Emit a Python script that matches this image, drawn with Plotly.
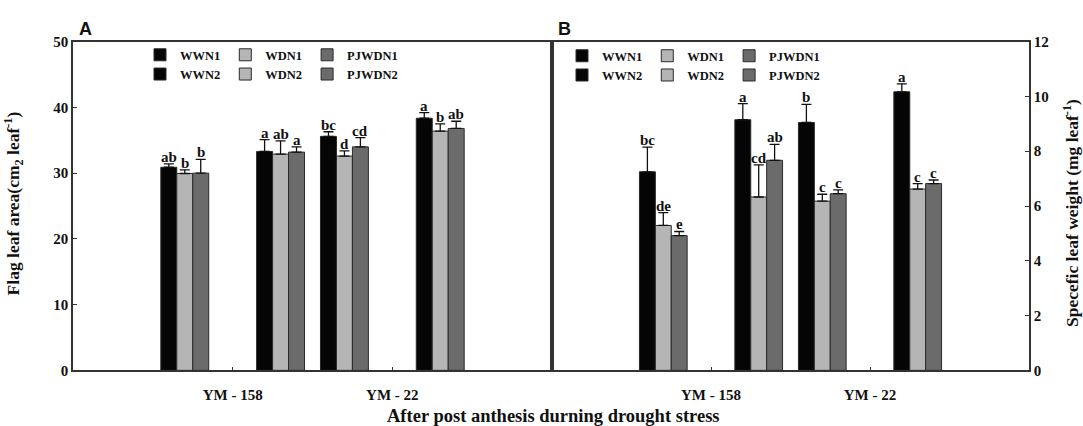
import plotly.graph_objects as go

categories = ["YM - 158", "YM - 22"]
series = ["WWN1", "WDN1", "PJWDN1", "WWN2", "WDN2", "PJWDN2"]

# Panel A: flag leaf area (cm2 leaf-1)
a_wwn1 = [30.9, 35.6]
a_wdn1 = [29.95, 32.6]
a_pjwdn1 = [30.0, 34.0]
a_wwn2 = [33.3, 38.35]
a_wdn2 = [32.9, 36.4]
a_pjwdn2 = [33.2, 36.8]
a_err_wwn1 = [0.5, 0.7]
a_err_wdn1 = [0.55, 0.8]
a_err_pjwdn1 = [2.1, 1.4]
a_err_wwn2 = [1.8, 0.85]
a_err_wdn2 = [2.0, 1.1]
a_err_pjwdn2 = [0.8, 1.1]
a_lab_wwn1 = ["ab", "bc"]
a_lab_wdn1 = ["b", "d"]
a_lab_pjwdn1 = ["b", "cd"]
a_lab_wwn2 = ["a", "a"]
a_lab_wdn2 = ["ab", "b"]
a_lab_pjwdn2 = ["a", "ab"]

# Panel B: specific leaf weight (mg leaf-1)
b_wwn1 = [7.25, 9.05]
b_wdn1 = [5.29, 6.18]
b_pjwdn1 = [4.92, 6.45]
b_wwn2 = [9.15, 10.17]
b_wdn2 = [6.33, 6.62]
b_pjwdn2 = [7.67, 6.82]
b_err_wwn1 = [0.9, 0.66]
b_err_wdn1 = [0.47, 0.25]
b_err_pjwdn1 = [0.15, 0.14]
b_err_wwn2 = [0.59, 0.29]
b_err_wdn2 = [1.17, 0.2]
b_err_pjwdn2 = [0.58, 0.13]
b_lab_wwn1 = ["bc", "b"]
b_lab_wdn1 = ["de", "c"]
b_lab_pjwdn1 = ["e", "c"]
b_lab_wwn2 = ["a", "a"]
b_lab_wdn2 = ["cd", "c"]
b_lab_pjwdn2 = ["ab", "c"]

panel_a = [(a_wwn1, a_err_wwn1, a_lab_wwn1), (a_wdn1, a_err_wdn1, a_lab_wdn1),
           (a_pjwdn1, a_err_pjwdn1, a_lab_pjwdn1), (a_wwn2, a_err_wwn2, a_lab_wwn2),
           (a_wdn2, a_err_wdn2, a_lab_wdn2), (a_pjwdn2, a_err_pjwdn2, a_lab_pjwdn2)]
panel_b = [(b_wwn1, b_err_wwn1, b_lab_wwn1), (b_wdn1, b_err_wdn1, b_lab_wdn1),
           (b_pjwdn1, b_err_pjwdn1, b_lab_pjwdn1), (b_wwn2, b_err_wwn2, b_lab_wwn2),
           (b_wdn2, b_err_wdn2, b_lab_wdn2), (b_pjwdn2, b_err_pjwdn2, b_lab_pjwdn2)]

colors = ["#050505", "#b5b5b5", "#6b6b6b", "#050505", "#b5b5b5", "#6b6b6b"]
offsets = [-0.45, -0.35, -0.25, 0.15, 0.25, 0.35]
bw = 0.1
SERIF = "Liberation Serif"

fig = go.Figure()
annotations = []
panels = [(panel_a, "x", "y", ["legend", "legend2"]), (panel_b, "x2", "y2", ["legend3", "legend4"])]
for data, xa, ya, legs in panels:
    for i, (vals, errs, labs) in enumerate(data):
        fig.add_trace(go.Bar(
            x=categories, y=vals, name=series[i], xaxis=xa, yaxis=ya, legend=legs[i // 3],
            width=bw, offset=offsets[i],
            marker=dict(color=colors[i], line=dict(color="#2a2a2a", width=1)),
            error_y=dict(type="data", array=errs, arrayminus=[0] * len(errs), symmetric=False,
                         color="#111111", thickness=1.3, width=5),
        ))
        for k in range(len(categories)):
            annotations.append(dict(
                x=k + offsets[i] + bw / 2, y=vals[k] + errs[k], xref=xa, yref=ya,
                text="<b>" + labs[k] + "</b>", showarrow=False, yanchor="bottom",
                yshift=-3, font=dict(family=SERIF, size=15, color="#111"),
            ))

axis_common = dict(showline=True, mirror=True, linecolor="#333", linewidth=1.5,
                   ticks="inside", ticklen=4, tickcolor="#333",
                   tickfont=dict(family=SERIF, size=15, color="#111", weight="bold"),
                   showgrid=False, zeroline=False)

leg_font = dict(family=SERIF, size=12.5, color="#111", weight="bold")


def leg(x_px, y_px):
    return dict(x=x_px / 1083, y=1 - y_px / 426, xanchor="left", yanchor="middle", orientation="h",
                bgcolor="rgba(0,0,0,0)", font=leg_font, tracegroupgap=0, itemwidth=30)


fig.update_layout(
    width=1083, height=426, margin=dict(l=0, r=0, t=0, b=0),
    paper_bgcolor="white", plot_bgcolor="white", barmode="overlay",
    xaxis=dict(domain=[73 / 1083, 552 / 1083], range=[-1, 2], anchor="y", ticklabelstandoff=10, **axis_common),
    xaxis2=dict(domain=[552 / 1083, 1029 / 1083], range=[-1, 2], anchor="y2", ticklabelstandoff=10, **axis_common),
    yaxis=dict(domain=[1 - 376.5 / 426, 1 - 35 / 426], range=[0, 50], dtick=10, anchor="x", **axis_common),
    yaxis2=dict(domain=[1 - 376.5 / 426, 1 - 35 / 426], range=[0, 12], dtick=2, anchor="x2", side="right", **axis_common),
    legend=leg(140, 49),
    legend2=leg(140, 69),
    legend3=leg(562, 50),
    legend4=leg(562, 70),
    showlegend=True,
)

annotations += [
    dict(x=77 / 1083, y=1 - 22 / 426, xref="paper", yref="paper", text="<b>A</b>", showarrow=False,
         xanchor="left", yanchor="middle", font=dict(family="Liberation Sans", size=18, color="#111")),
    dict(x=556 / 1083, y=1 - 22 / 426, xref="paper", yref="paper", text="<b>B</b>", showarrow=False,
         xanchor="left", yanchor="middle", font=dict(family="Liberation Sans", size=18, color="#111")),
    dict(x=553 / 1083, y=0, xref="paper", yref="paper",
         text="<b>After post anthesis durning drought stress</b>", showarrow=False,
         xanchor="center", yanchor="bottom", yshift=-10, font=dict(family=SERIF, size=18.5, color="#111")),
    dict(x=13 / 1083, y=1 - 203 / 426, xref="paper", yref="paper",
         text="<b>Flag leaf area(cm<sub>2</sub> leaf<sup>-1</sup>)</b>", showarrow=False, textangle=-90,
         xanchor="center", yanchor="middle", font=dict(family=SERIF, size=17.5, color="#111")),
    dict(x=1071 / 1083, y=1 - 213 / 426, xref="paper", yref="paper",
         text="<b>Specefic leaf weight (mg leaf<sup>-1</sup>)</b>", showarrow=False, textangle=-90,
         xanchor="center", yanchor="middle", font=dict(family=SERIF, size=17.5, color="#111")),
]
fig.update_layout(annotations=annotations)

fig.write_html("out.html")
